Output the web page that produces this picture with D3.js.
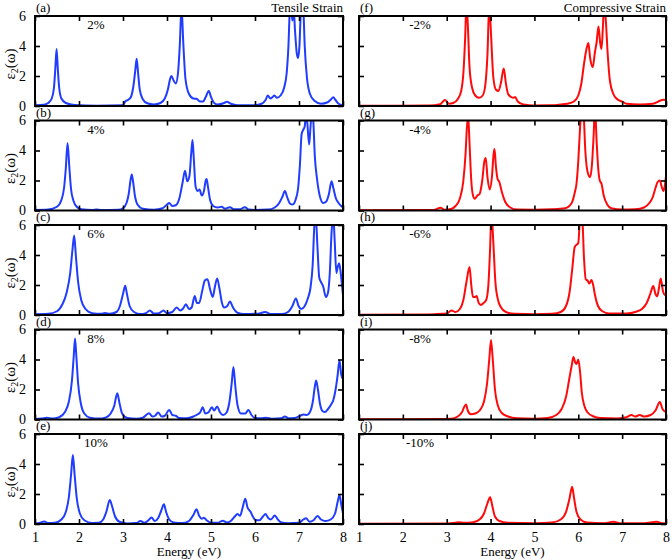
<!DOCTYPE html>
<html><head><meta charset="utf-8">
<script src="https://cdn.jsdelivr.net/npm/d3@7"></script>
<style>
body{margin:0;background:#fff;}
svg text{font-family:"Liberation Serif","Times New Roman",serif;}
</style></head>
<body><svg id="c" width="672" height="560"></svg>
<script>
// ---- data ----
const xTicks = [1,2,3,4,5,6,7,8];
const yTicks = [0,2,4,6];
const panelLabelsLeft = ["(a)","(b)","(c)","(d)","(e)"];
const panelLabelsRight = ["(f)","(g)","(h)","(i)","(j)"];
const strainLeft = ["2%","4%","6%","8%","10%"];
const strainRight = ["-2%","-4%","-6%","-8%","-10%"];
const titleLeft = "Tensile Strain";
const titleRight = "Compressive Strain";
const xTitle = "Energy (eV)";

// tensile strain spectra [energy eV, eps2]
const tensile2 = [[1.0,0.05],[1.2,0.08],[1.3,0.2],[1.38,0.5],[1.43,1.2],[1.46,2.4],[1.49,3.8],[1.52,2.4],[1.55,1.2],[1.6,0.5],[1.7,0.2],[1.9,0.06],[2.4,0.02],[3.0,0.05],[3.05,0.3],[3.12,0.42],[3.18,0.6],[3.24,1.4],[3.28,2.4],[3.31,3.15],[3.34,2.3],[3.38,1.1],[3.45,0.45],[3.55,0.18],[3.7,0.1],[3.85,0.2],[3.95,0.5],[4.02,1.1],[4.07,1.8],[4.1,2.0],[4.15,1.7],[4.2,1.5],[4.25,2.2],[4.29,4.0],[4.33,6.6],[4.37,4.2],[4.42,1.8],[4.5,0.8],[4.6,0.5],[4.67,0.48],[4.75,0.3],[4.82,0.3],[4.88,0.6],[4.95,1.0],[5.0,0.6],[5.07,0.2],[5.15,0.1],[5.3,0.2],[5.36,0.28],[5.45,0.15],[5.6,0.05],[6.0,0.05],[6.15,0.15],[6.24,0.4],[6.29,0.7],[6.35,0.5],[6.4,0.6],[6.44,0.7],[6.5,0.55],[6.58,0.7],[6.66,1.2],[6.72,2.2],[6.76,4.0],[6.79,6.2],[6.82,6.5],[6.85,5.7],[6.88,6.4],[6.91,5.0],[6.95,3.5],[6.98,3.2],[7.01,4.0],[7.04,6.2],[7.07,6.8],[7.1,6.3],[7.13,4.0],[7.18,1.9],[7.25,0.8],[7.35,0.35],[7.5,0.15],[7.65,0.25],[7.73,0.45],[7.78,0.58],[7.83,0.4],[7.9,0.15],[8.0,0.05]];
const tensile4 = [[1.0,0.03],[1.3,0.06],[1.5,0.25],[1.6,0.7],[1.66,1.5],[1.7,2.8],[1.74,4.5],[1.78,2.9],[1.82,1.4],[1.88,0.6],[1.95,0.25],[2.05,0.08],[2.3,0.04],[2.4,0.07],[2.5,0.03],[2.9,0.05],[3.0,0.15],[3.08,0.5],[3.13,1.1],[3.17,2.0],[3.2,2.4],[3.23,1.9],[3.27,1.0],[3.33,0.4],[3.45,0.12],[3.7,0.05],[3.9,0.15],[4.0,0.4],[4.05,0.5],[4.12,0.3],[4.2,0.35],[4.28,0.8],[4.35,1.8],[4.41,2.65],[4.46,1.95],[4.51,2.3],[4.55,3.8],[4.58,4.7],[4.61,3.4],[4.65,1.6],[4.7,1.3],[4.74,1.4],[4.79,1.0],[4.84,1.3],[4.88,2.0],[4.9,2.1],[4.93,1.6],[4.98,0.7],[5.05,0.3],[5.15,0.2],[5.24,0.25],[5.32,0.12],[5.43,0.22],[5.52,0.08],[5.65,0.08],[5.77,0.22],[5.85,0.07],[6.0,0.04],[6.3,0.06],[6.45,0.2],[6.55,0.5],[6.62,0.9],[6.68,1.3],[6.73,0.9],[6.8,0.45],[6.86,0.4],[6.92,0.7],[6.98,1.5],[7.02,3.0],[7.06,5.1],[7.1,5.4],[7.13,5.6],[7.16,6.5],[7.19,5.8],[7.23,4.4],[7.26,5.5],[7.29,6.6],[7.32,6.2],[7.36,3.6],[7.41,2.1],[7.47,1.0],[7.55,0.5],[7.62,0.6],[7.68,1.1],[7.74,1.95],[7.78,1.5],[7.84,0.8],[7.9,0.5],[7.96,0.3],[8.0,0.2]];
const tensile6 = [[1.0,0.05],[1.3,0.08],[1.5,0.25],[1.62,0.7],[1.72,1.5],[1.8,2.8],[1.85,4.3],[1.89,5.3],[1.93,3.9],[1.98,2.2],[2.05,1.0],[2.15,0.4],[2.3,0.12],[2.5,0.08],[2.59,0.13],[2.7,0.08],[2.85,0.2],[2.93,0.6],[3.0,1.4],[3.05,1.95],[3.09,1.4],[3.15,0.6],[3.25,0.2],[3.4,0.06],[3.52,0.12],[3.61,0.3],[3.7,0.1],[3.82,0.12],[3.92,0.3],[4.0,0.12],[4.12,0.2],[4.22,0.5],[4.3,0.3],[4.37,0.45],[4.43,0.72],[4.5,0.4],[4.56,0.5],[4.63,1.27],[4.68,0.8],[4.73,0.8],[4.8,1.6],[4.86,2.3],[4.92,2.38],[4.98,1.7],[5.04,1.2],[5.09,1.9],[5.14,2.44],[5.19,1.8],[5.25,0.8],[5.3,0.5],[5.37,0.6],[5.43,0.9],[5.5,0.5],[5.6,0.15],[5.75,0.06],[6.0,0.08],[6.1,0.1],[6.23,0.2],[6.35,0.07],[6.6,0.06],[6.75,0.2],[6.85,0.6],[6.93,1.1],[6.99,0.6],[7.05,0.4],[7.12,0.55],[7.2,1.1],[7.26,1.8],[7.31,3.3],[7.35,6.0],[7.38,6.6],[7.42,4.5],[7.46,2.5],[7.5,2.2],[7.55,1.9],[7.61,1.2],[7.66,1.5],[7.7,2.8],[7.74,5.5],[7.78,6.6],[7.81,5.0],[7.85,2.8],[7.88,3.2],[7.91,3.45],[7.94,3.0],[7.97,2.2],[8.0,1.3]];
const tensile8 = [[1.0,0.03],[1.15,0.06],[1.27,0.12],[1.4,0.06],[1.55,0.15],[1.68,0.5],[1.77,1.2],[1.84,2.6],[1.88,4.2],[1.91,5.4],[1.94,4.2],[1.98,2.4],[2.04,1.1],[2.12,0.4],[2.25,0.12],[2.45,0.06],[2.6,0.12],[2.72,0.4],[2.8,0.9],[2.87,1.75],[2.92,1.1],[2.98,0.4],[3.1,0.1],[3.3,0.05],[3.45,0.12],[3.59,0.42],[3.67,0.2],[3.73,0.25],[3.8,0.47],[3.88,0.2],[3.95,0.25],[4.05,0.64],[4.12,0.3],[4.2,0.25],[4.27,0.1],[4.45,0.08],[4.6,0.2],[4.7,0.35],[4.76,0.5],[4.81,0.82],[4.87,0.4],[4.95,0.5],[5.02,0.82],[5.07,0.6],[5.14,0.87],[5.2,0.5],[5.27,0.3],[5.35,0.45],[5.42,1.2],[5.47,2.4],[5.51,3.5],[5.55,2.3],[5.6,1.0],[5.68,0.4],[5.78,0.4],[5.85,0.64],[5.92,0.3],[6.0,0.1],[6.15,0.08],[6.25,0.12],[6.4,0.05],[6.6,0.08],[6.68,0.2],[6.76,0.08],[6.9,0.1],[7.03,0.25],[7.1,0.33],[7.18,0.3],[7.25,0.5],[7.32,1.3],[7.36,2.2],[7.39,2.6],[7.43,2.0],[7.48,1.0],[7.54,0.55],[7.59,0.5],[7.66,0.7],[7.73,1.0],[7.78,1.3],[7.84,2.15],[7.88,3.0],[7.92,3.93],[7.96,3.0],[8.0,2.7]];
const tensile10 = [[1.0,0.03],[1.12,0.08],[1.21,0.17],[1.3,0.06],[1.45,0.08],[1.6,0.3],[1.7,0.8],[1.77,1.8],[1.82,3.3],[1.86,4.6],[1.9,3.3],[1.95,1.7],[2.02,0.7],[2.12,0.25],[2.3,0.07],[2.45,0.08],[2.55,0.3],[2.62,0.8],[2.7,1.6],[2.75,1.2],[2.82,0.5],[2.92,0.15],[3.1,0.04],[3.3,0.06],[3.4,0.2],[3.48,0.08],[3.56,0.2],[3.65,0.44],[3.72,0.2],[3.8,0.4],[3.87,0.9],[3.93,1.31],[3.98,0.8],[4.05,0.3],[4.15,0.1],[4.35,0.06],[4.5,0.2],[4.6,0.6],[4.67,0.98],[4.73,0.55],[4.79,0.35],[4.84,0.42],[4.9,0.25],[5.0,0.08],[5.15,0.08],[5.27,0.22],[5.36,0.1],[5.45,0.2],[5.54,0.5],[5.6,0.67],[5.66,0.55],[5.72,1.1],[5.78,1.69],[5.83,1.1],[5.9,0.82],[5.95,0.5],[6.02,0.25],[6.1,0.25],[6.18,0.5],[6.24,0.67],[6.3,0.4],[6.36,0.3],[6.45,0.56],[6.52,0.3],[6.6,0.1],[6.75,0.05],[7.0,0.08],[7.1,0.3],[7.16,0.38],[7.24,0.15],[7.33,0.25],[7.42,0.53],[7.5,0.3],[7.6,0.2],[7.72,0.3],[7.82,0.7],[7.88,1.5],[7.92,1.93],[7.96,1.3],[8.0,0.7]];

// compressive strain spectra
const compress2 = [[1.0,0.02],[2.6,0.03],[2.85,0.12],[2.96,0.4],[3.05,0.15],[3.15,0.2],[3.25,0.45],[3.33,1.0],[3.38,2.2],[3.42,4.5],[3.45,6.8],[3.48,5.5],[3.52,2.6],[3.58,1.2],[3.65,0.7],[3.74,0.55],[3.82,0.7],[3.88,1.4],[3.93,3.5],[3.97,6.8],[4.01,4.8],[4.06,2.0],[4.12,1.1],[4.18,1.0],[4.24,1.6],[4.3,2.5],[4.35,1.5],[4.4,0.8],[4.47,0.6],[4.52,0.55],[4.56,0.6],[4.62,0.3],[4.75,0.1],[5.0,0.04],[5.4,0.05],[5.6,0.1],[5.75,0.15],[5.9,0.3],[6.0,0.7],[6.07,1.5],[6.13,2.8],[6.18,3.7],[6.23,4.2],[6.27,3.2],[6.33,2.6],[6.38,3.6],[6.42,4.3],[6.46,5.3],[6.5,4.2],[6.53,3.8],[6.56,5.2],[6.59,6.8],[6.63,5.6],[6.67,3.5],[6.72,1.7],[6.8,0.8],[6.87,0.5],[6.95,0.35],[7.0,0.3],[7.1,0.15],[7.4,0.1],[7.7,0.15],[7.86,0.35],[7.93,0.42],[8.0,0.4]];
const compress4 = [[1.0,0.02],[2.7,0.04],[2.86,0.18],[2.95,0.05],[3.1,0.1],[3.2,0.3],[3.3,0.8],[3.38,2.0],[3.43,3.8],[3.46,5.5],[3.49,6.3],[3.52,4.5],[3.56,2.0],[3.6,1.0],[3.64,0.78],[3.7,1.0],[3.75,1.1],[3.81,2.0],[3.86,3.3],[3.89,3.5],[3.93,2.2],[3.98,1.4],[4.03,2.2],[4.07,3.8],[4.09,4.1],[4.12,3.0],[4.16,2.1],[4.2,1.9],[4.26,1.2],[4.33,0.6],[4.45,0.2],[4.6,0.06],[5.0,0.05],[5.4,0.08],[5.7,0.15],[5.85,0.5],[5.92,1.2],[5.96,1.8],[6.0,3.3],[6.04,5.5],[6.08,7.0],[6.12,6.5],[6.16,4.0],[6.21,2.6],[6.27,2.22],[6.31,3.0],[6.35,5.0],[6.38,6.8],[6.42,4.5],[6.46,2.6],[6.49,2.0],[6.53,1.78],[6.58,1.0],[6.66,0.4],[6.75,0.15],[7.0,0.06],[7.3,0.08],[7.5,0.2],[7.62,0.5],[7.7,0.9],[7.76,1.5],[7.81,1.9],[7.86,2.0],[7.9,1.6],[7.94,1.3],[7.97,1.6],[8.0,2.3]];
const compress6 = [[1.0,0.02],[2.6,0.04],[2.9,0.08],[3.0,0.1],[3.11,0.3],[3.2,0.2],[3.3,0.4],[3.38,1.0],[3.45,2.2],[3.52,3.2],[3.56,2.0],[3.6,1.2],[3.65,1.2],[3.68,1.27],[3.73,0.8],[3.78,0.67],[3.84,0.8],[3.9,1.0],[3.95,2.0],[3.99,4.5],[4.02,6.8],[4.06,5.0],[4.11,2.2],[4.17,1.0],[4.24,0.5],[4.35,0.2],[4.55,0.08],[5.0,0.05],[5.4,0.08],[5.6,0.2],[5.72,0.6],[5.8,1.5],[5.86,3.0],[5.92,4.55],[6.0,4.8],[6.05,6.8],[6.09,6.5],[6.13,3.8],[6.17,2.38],[6.21,2.3],[6.25,2.1],[6.3,2.33],[6.34,2.0],[6.38,1.33],[6.45,0.6],[6.55,0.25],[6.7,0.1],[7.1,0.1],[7.3,0.2],[7.45,0.4],[7.56,0.8],[7.64,1.4],[7.71,1.93],[7.76,1.4],[7.8,1.25],[7.84,1.8],[7.88,2.44],[7.93,1.6],[7.98,1.33],[8.0,1.35]];
const compress8 = [[1.0,0.02],[2.8,0.03],[3.1,0.05],[3.25,0.2],[3.35,0.5],[3.41,0.9],[3.44,1.0],[3.48,0.6],[3.55,0.35],[3.65,0.4],[3.75,0.6],[3.85,1.2],[3.92,2.4],[3.97,4.0],[4.01,5.3],[4.05,4.0],[4.1,2.0],[4.17,0.9],[4.25,0.45],[4.4,0.2],[4.6,0.08],[5.0,0.05],[5.3,0.1],[5.5,0.3],[5.62,0.7],[5.72,1.5],[5.8,2.8],[5.85,3.6],[5.89,4.16],[5.93,3.8],[5.96,3.7],[6.0,4.0],[6.04,3.2],[6.08,1.8],[6.14,0.9],[6.22,0.45],[6.35,0.2],[6.5,0.1],[6.9,0.07],[7.1,0.15],[7.21,0.3],[7.3,0.2],[7.4,0.3],[7.5,0.2],[7.65,0.3],[7.76,0.6],[7.86,1.16],[7.92,0.7],[8.0,0.5]];
const compress10 = [[1.0,0.02],[3.0,0.03],[3.15,0.06],[3.26,0.12],[3.4,0.08],[3.6,0.12],[3.75,0.3],[3.85,0.7],[3.92,1.3],[3.99,1.78],[4.04,1.2],[4.1,0.5],[4.2,0.2],[4.4,0.08],[5.0,0.05],[5.4,0.1],[5.6,0.3],[5.72,0.8],[5.8,1.7],[5.86,2.49],[5.9,1.8],[5.96,0.8],[6.05,0.3],[6.2,0.1],[6.6,0.05],[6.8,0.15],[6.95,0.05],[7.5,0.05],[7.79,0.15],[7.9,0.05],[8.0,0.05]];

const tensileSeries = [tensile2, tensile4, tensile6, tensile8, tensile10];
const compressSeries = [compress2, compress4, compress6, compress8, compress10];

// ---- drawing ----
const svg = d3.select("#c");
const cols = [
  {x0:35, x1:343, series:tensileSeries, color:"#1f3cff", labels:panelLabelsLeft, strain:strainLeft, title:titleLeft, yLabels:true},
  {x0:359, x1:666, series:compressSeries, color:"#ff0a0a", labels:panelLabelsRight, strain:strainRight, title:titleRight, yLabels:false}
];
const tops = [16, 120.5, 225, 329.5, 434];
const ph = 90;
const font = 13;

const defs = svg.append("defs");

cols.forEach((col, ci) => {
  const x = d3.scaleLinear().domain([1,8]).range([col.x0, col.x1]);
  tops.forEach((top, ri) => {
    const y = d3.scaleLinear().domain([0,6]).range([top+ph, top]);
    const g = svg.append("g");
    const cid = `clip${ci}_${ri}`;
    defs.append("clipPath").attr("id", cid).append("rect")
      .attr("x", col.x0).attr("y", top).attr("width", col.x1-col.x0).attr("height", ph);

    const line = d3.line().x(d=>x(d[0])).y(d=>y(d[1])).curve(d3.curveMonotoneX);
    g.append("path").datum(col.series[ri]).attr("clip-path", `url(#${cid})`)
      .attr("d", line).attr("fill","none").attr("stroke", col.color)
      .attr("stroke-width", 2).attr("stroke-linejoin","round");

    // axes with inward ticks
    const bottom = d3.axisBottom(x).tickValues(xTicks).tickSize(-5).tickPadding(8)
      .tickFormat(ri === 4 ? d3.format("d") : () => "");
    const topAx = d3.axisTop(x).tickValues(xTicks).tickSize(-5).tickFormat(() => "");
    const left = d3.axisLeft(y).tickValues(yTicks).tickSize(-5).tickPadding(9)
      .tickFormat(col.yLabels ? d3.format("d") : () => "");
    const right = d3.axisRight(y).tickValues(yTicks).tickSize(-5).tickFormat(() => "");
    const axes = [
      [bottom, `translate(0,${top+ph})`],
      [topAx, `translate(0,${top})`],
      [left, `translate(${col.x0},0)`],
      [right, `translate(${col.x1},0)`]
    ];
    axes.forEach(([ax, tr]) => {
      const a = g.append("g").attr("transform", tr).call(ax);
      a.select(".domain").remove();
      a.selectAll(".tick line").attr("stroke","#000").attr("stroke-width",1.6);
      a.selectAll(".tick text").attr("font-size", 14).attr("fill","#000")
        .attr("font-family", '"Liberation Serif","Times New Roman",serif');
    });

    // frame
    g.append("rect").attr("x", col.x0).attr("y", top).attr("width", col.x1-col.x0).attr("height", ph)
      .attr("fill","none").attr("stroke","#000").attr("stroke-width",2);

    // panel letter
    g.append("text").attr("x", col.x0+1).attr("y", top-4).attr("font-size", font).text(col.labels[ri]);
    // strain label
    g.append("text").attr("x", col.x0+61).attr("y", top+13).attr("text-anchor","middle")
      .attr("font-size", font).text(col.strain[ri]);

    if (ri === 0) {
      g.append("text").attr("x", col.x1).attr("y", top-4).attr("text-anchor","end")
        .attr("font-size", font).text(col.title);
    }
    if (col.yLabels) {
      const t = g.append("text").attr("transform", `translate(15,${top+ph/2+3}) rotate(-90)`)
        .attr("text-anchor","middle").attr("font-size", 15);
      t.append("tspan").text("ε");
      t.append("tspan").attr("font-size", 10).attr("dy", 3).text("2");
      t.append("tspan").attr("dy", -3).text("(ω)");
    }
    if (ri === 4) {
      g.append("text").attr("x", (col.x0+col.x1)/2).attr("y", 556).attr("text-anchor","middle")
        .attr("font-size", font).text(xTitle);
    }
  });
});
</script></body></html>
